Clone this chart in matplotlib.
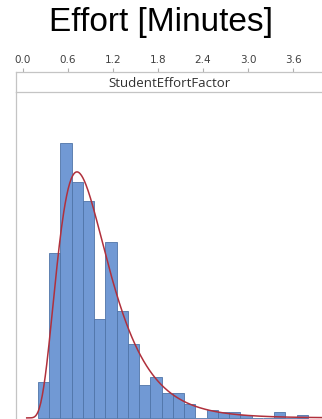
import matplotlib.pyplot as plt
import numpy as np

# histogram of StudentEffortFactor (counts)
bin_start = 0.2
bin_width = 0.15
counts = [13, 60, 100, 86, 79, 36, 64, 39, 27, 12, 15, 9,
          9, 5, 0, 3, 2, 2, 1, 0, 0, 2, 0, 1]

# fitted lognormal shown as the red curve
fit_mu = -0.108
fit_sigma = 0.47

tick_values = [0.0, 0.6, 1.2, 1.8, 2.4, 3.0, 3.6]
tick_labels = ['0.0', '0.6', '1.2', '1.8', '2.4', '3.0', '3.6']

x_min, x_max = -0.093, 3.987

fig = plt.figure(figsize=(3.22, 4.19), dpi=100)

fig.text(0.5, 0.947, 'Effort [Minutes]', ha='center', va='center',
         fontsize=24, family='Liberation Sans', color='black')

# main histogram (added first so the header lines sit on top of it)
ax = fig.add_axes([0.0497, 0.0, 0.9503, 0.780])
ax.patch.set_visible(False)
edges = bin_start + bin_width * np.arange(len(counts))
ax.bar(edges, counts, width=bin_width, align='edge', color='#7199d4',
       edgecolor='#4f74a8', linewidth=0.6)

total = sum(counts)
xs = np.linspace(0.05, x_max, 400)
pdf = np.exp(-(np.log(xs) - fit_mu) ** 2 / (2 * fit_sigma ** 2)) / (xs * fit_sigma * np.sqrt(2 * np.pi))
ax.plot(xs, pdf * total * bin_width, color='#b0303c', linewidth=1.1)

ax.set_xlim(x_min, x_max)
ax.set_ylim(-0.4, 118.5)
ax.set_xticks([])
ax.set_yticks([])
for side in ['top', 'right', 'bottom']:
    ax.spines[side].set_visible(False)
ax.spines['left'].set_color('#c4c4c4')
ax.spines['left'].set_linewidth(0.9)

# header strip with the column name and the axis ticks
ax_head = fig.add_axes([0.0497, 0.780, 0.9503, 0.048])
ax_head.set_xlim(x_min, x_max)
ax_head.set_yticks([])
ax_head.xaxis.tick_top()
ax_head.set_xticks(tick_values)
ax_head.set_xticklabels(tick_labels)
ax_head.tick_params(axis='x', direction='out', length=3, width=0.8, pad=2,
                    colors='#b0b0b0', labelcolor='#404040', labelsize=7.5)
for s in ax_head.spines.values():
    s.set_color('#c4c4c4')
    s.set_linewidth(0.9)
ax_head.spines['right'].set_visible(False)
ax_head.text(0.5, 0.45, 'StudentEffortFactor', transform=ax_head.transAxes,
             ha='center', va='center', fontsize=9.5, family='Open Sans',
             color='#303030')

fig.savefig('out.png', dpi=100)
